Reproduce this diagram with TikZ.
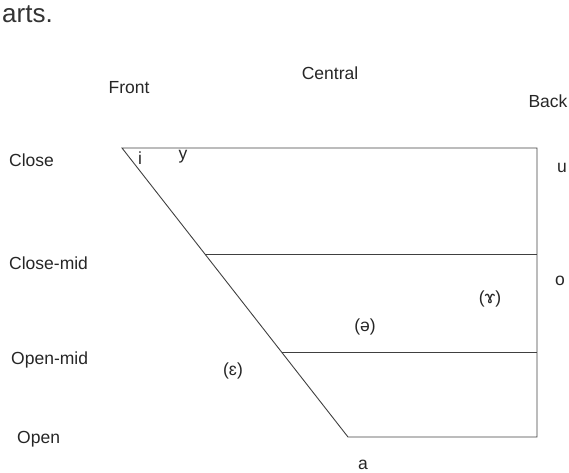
\documentclass[tikz,border=0pt]{standalone}
\usepackage{fontspec}
\setmainfont{Liberation Sans}
\usetikzlibrary{positioning}

\begin{document}
\begin{tikzpicture}[
    x=1pt, y=-1pt,
    edge/.style={draw=black!75, line width=0.9pt},
    height/.style={anchor=west, font=\fontsize{17.5}{20}\selectfont, text=black!85, inner sep=0pt},
    place/.style={font=\fontsize{17.5}{20}\selectfont, text=black!85, inner sep=0pt},
    vowel/.style={font=\fontsize{17.5}{20}\selectfont, text=black!85, inner sep=0pt}
]
    \useasboundingbox (0,0) rectangle (569,472);

    % corners of the chart
    \coordinate (fc) at (122,148);
    \coordinate (bc) at (537,148);
    \coordinate (fcm) at (205,254);
    \coordinate (bcm) at (537,254);
    \coordinate (fom) at (282,352);
    \coordinate (bom) at (537,352);
    \coordinate (fo) at (348,437);
    \coordinate (bo) at (537,437);

    \draw [edge] (fc) -- (bc) -- (bo) -- (fo) -- cycle;
    \draw [edge] (fcm) -- (bcm);
    \draw [edge] (fom) -- (bom);

    \node [anchor=base east, font=\fontsize{26}{30}\selectfont, text=black!80, inner sep=0pt] (cut) at (53,22) {arts.};

    \node [place] (front) at (129,88) {Front};
    \node [place] (central) at (330,73) {Central};
    \node [place] (back) at (548,101) {Back};

    \node [height] (close) at (9,160) {Close};
    \node [height] (closemid) at (9,263) {Close-mid};
    \node [height] (openmid) at (11,360) {Open-mid};
    \node [height] (open) at (17,439) {Open};

    \node [vowel] (i) at (140,158) {i};
    \node [vowel] (y) at (183,157) {y};
    \node [vowel] (u) at (562,168) {u};
    \node [vowel] (o) at (560,281) {o};
    \node [vowel] (ram) at (490,299) {(ɤ)};
    \node [vowel] (schwa) at (365,327) {(ə)};
    \node [vowel] (eps) at (233,371) {(ɛ)};
    \node [vowel] (a) at (363,465) {a};

\end{tikzpicture}
\end{document}
